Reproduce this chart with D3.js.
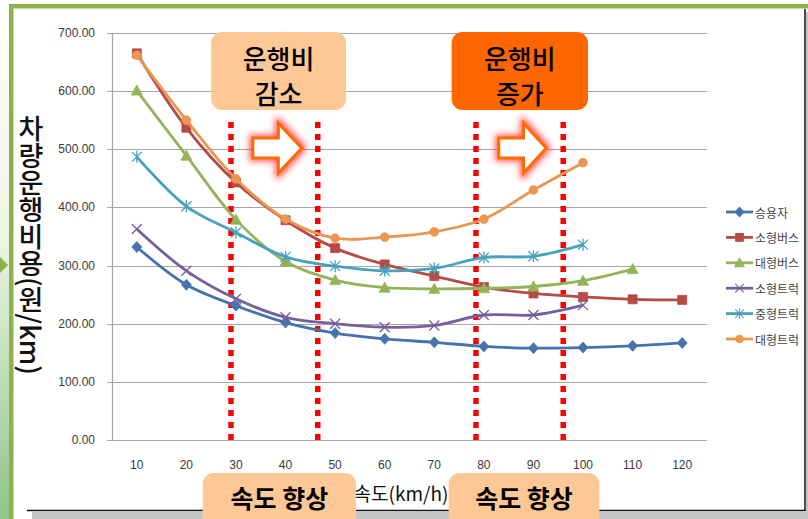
<!DOCTYPE html>
<html>
<head>
<meta charset="utf-8">
<script src="https://cdn.jsdelivr.net/npm/d3@7"></script>
<style>
  html, body { margin: 0; padding: 0; background: #fff; }
  svg { display: block; }
</style>
</head>
<body>
<svg id="chart"></svg>
<script>
const width = 808;
const height = 519;

// 데이터
const speeds = [10, 20, 30, 40, 50, 60, 70, 80, 90, 100, 110, 120];
const yTicks = [0, 100, 200, 300, 400, 500, 600, 700];
const seriesNames = ['승용자', '소형버스', '대형버스', '소형트럭', '중형트럭', '대형트럭'];
const car = [332, 267, 231, 202, 184, 174, 168, 161, 158, 159, 162, 167];
const smallBus = [665, 537, 443, 378, 330, 302, 282, 263, 252, 246, 242, 241];
const largeBus = [601, 489, 379, 307, 275, 262, 260, 261, 264, 274, 294];
const smallTruck = [363, 291, 243, 211, 200, 194, 197, 215, 215, 232];
const midTruck = [487, 402, 357, 315, 299, 291, 295, 314, 316, 336];
const largeTruck = [662, 550, 449, 380, 347, 349, 358, 380, 430, 477];
const seriesValues = [car, smallBus, largeBus, smallTruck, midTruck, largeTruck];
// 점선 위치 (속도)
const guideSpeeds = [29, 46.5, 78.4, 96];

const colors = ['#4673ab', '#b54a47', '#93b457', '#76609b', '#47a3bd', '#eb9651'];
const markers = ['diamond', 'square', 'triangle', 'x', 'star', 'circle'];

const svg = d3.select('#chart')
  .attr('width', width)
  .attr('height', height);

const defs = svg.append('defs');

// 왼쪽 바깥 배경 그라데이션
const grad = defs.append('linearGradient')
  .attr('id', 'sideGrad')
  .attr('x1', 0).attr('y1', 0).attr('x2', 0).attr('y2', 1);
grad.append('stop').attr('offset', '0%').attr('stop-color', '#ffffff');
grad.append('stop').attr('offset', '45%').attr('stop-color', '#eef6e6');
grad.append('stop').attr('offset', '100%').attr('stop-color', '#8fc48a');

// 화살표 빨간 그림자
const glow = defs.append('filter')
  .attr('id', 'glow')
  .attr('x', '-40%').attr('y', '-40%').attr('width', '180%').attr('height', '180%');
glow.append('feMorphology').attr('in', 'SourceAlpha').attr('operator', 'dilate').attr('radius', 2).attr('result', 'd');
glow.append('feGaussianBlur').attr('in', 'd').attr('stdDeviation', 3).attr('result', 'b');
glow.append('feFlood').attr('flood-color', '#ff2a2a').attr('flood-opacity', 0.75);
glow.append('feComposite').attr('in2', 'b').attr('operator', 'in').attr('result', 'g');
const merge = glow.append('feMerge');
merge.append('feMergeNode').attr('in', 'g');
merge.append('feMergeNode').attr('in', 'SourceGraphic');

svg.append('rect')
  .attr('x', 0).attr('y', 0)
  .attr('width', 9).attr('height', height)
  .attr('fill', 'url(#sideGrad)');

// 액자 (그림자, 검은 테두리, 초록 테두리)
svg.append('rect')
  .attr('x', 32).attr('y', 512)
  .attr('width', width - 32).attr('height', 7)
  .attr('fill', '#c4c4c4');
svg.append('rect')
  .attr('x', 806).attr('y', 12)
  .attr('width', 2).attr('height', 507)
  .attr('fill', '#c4c4c4');
svg.append('line')
  .attr('x1', 27).attr('x2', 805.5)
  .attr('y1', 510.5).attr('y2', 510.5)
  .attr('stroke', '#111').attr('stroke-width', 1.5);
svg.append('line')
  .attr('x1', 805).attr('x2', 805)
  .attr('y1', 9).attr('y2', 511)
  .attr('stroke', '#111').attr('stroke-width', 1.5);
svg.append('rect')
  .attr('x', 9).attr('y', 4)
  .attr('width', width - 9).attr('height', 4.5)
  .attr('fill', '#8db24c');
svg.append('rect')
  .attr('x', 9).attr('y', 4)
  .attr('width', 4.5).attr('height', height)
  .attr('fill', '#8db24c');
svg.append('path')
  .attr('d', 'M0,257 L8,265 L0,273 Z')
  .attr('fill', '#8db24c');

const margin = { left: 112, right: 101, top: 33, bottom: 79 };
const plotRight = width - margin.right;
const plotBottom = height - margin.bottom;

const xScale = d3.scalePoint()
  .domain(speeds)
  .range([margin.left, plotRight])
  .padding(0.5);
// 속도 → 화면 좌표 (주석 위치용)
const xLin = d3.scaleLinear()
  .domain([10, 120])
  .range([xScale(10), xScale(120)]);
const yScale = d3.scaleLinear()
  .domain([0, 700])
  .range([plotBottom, margin.top]);

// 격자
svg.append('g')
  .selectAll('line')
  .data(yTicks)
  .join('line')
  .attr('x1', margin.left - 5)
  .attr('x2', plotRight)
  .attr('y1', d => Math.round(yScale(d)) + 0.5)
  .attr('y2', d => Math.round(yScale(d)) + 0.5)
  .attr('stroke', '#a6a6a6')
  .attr('stroke-width', 1.2);
svg.append('line')
  .attr('x1', margin.left + 0.5).attr('x2', margin.left + 0.5)
  .attr('y1', margin.top).attr('y2', plotBottom + 0.5)
  .attr('stroke', '#a6a6a6')
  .attr('stroke-width', 1.2);

// 축 라벨
svg.append('g')
  .selectAll('text')
  .data(yTicks)
  .join('text')
  .attr('x', 95)
  .attr('y', d => yScale(d))
  .attr('text-anchor', 'end')
  .attr('dominant-baseline', 'central')
  .attr('font-family', 'Liberation Sans, Arial, sans-serif')
  .attr('font-size', 12)
  .attr('fill', '#3a3a3a')
  .text(d => d3.format('.2f')(d));

svg.append('g')
  .selectAll('text')
  .data(speeds)
  .join('text')
  .attr('x', d => xScale(d))
  .attr('y', 465)
  .attr('text-anchor', 'middle')
  .attr('dominant-baseline', 'central')
  .attr('font-family', 'Liberation Sans, Arial, sans-serif')
  .attr('font-size', 12)
  .attr('fill', '#3a3a3a')
  .text(d => d);

svg.append('text')
  .attr('x', 401)
  .attr('y', 492)
  .attr('text-anchor', 'middle')
  .attr('dominant-baseline', 'central')
  .attr('font-family', 'Noto Sans CJK KR, sans-serif')
  .attr('font-size', 19)
  .attr('fill', '#111')
  .text('속도(km/h)');

svg.append('text')
  .attr('x', 31)
  .attr('y', 115)
  .attr('font-family', 'Noto Sans CJK KR, sans-serif')
  .attr('font-size', 27)
  .attr('font-weight', 500)
  .attr('fill', '#111')
  .style('writing-mode', 'vertical-rl')
  .style('text-orientation', 'mixed')
  .text('차량운행비용(원/km)');

// 점선
svg.append('g')
  .selectAll('line')
  .data(guideSpeeds)
  .join('line')
  .attr('x1', d => xLin(d))
  .attr('x2', d => xLin(d))
  .attr('y1', 122)
  .attr('y2', plotBottom)
  .attr('stroke', '#ff0000')
  .attr('stroke-width', 5.5)
  .attr('stroke-dasharray', '6 6');

// 계열 선과 마커
const line = d3.line()
  .x((d, i) => xScale(speeds[i]))
  .y(d => yScale(d))
  .curve(d3.curveCatmullRom.alpha(0.5));

function markerPath(type) {
  if (type === 'diamond') return 'M0,-5.5 L5,0 L0,5.5 L-5,0 Z';
  if (type === 'square') return 'M-4.5,-4.5 H4.5 V4.5 H-4.5 Z';
  if (type === 'triangle') return 'M0,-5.5 L5.5,4.5 L-5.5,4.5 Z';
  if (type === 'x') return 'M-5,-5 L5,5 M-5,5 L5,-5';
  if (type === 'star') return 'M-5,-5 L5,5 M-5,5 L5,-5 M0,-6 L0,6';
  return d3.symbol(d3.symbolCircle, 60)();
}

const seriesG = svg.append('g')
  .selectAll('g')
  .data(seriesValues)
  .join('g');

seriesG.append('path')
  .attr('d', d => line(d))
  .attr('fill', 'none')
  .attr('stroke', (d, i) => colors[i])
  .attr('stroke-width', 2.8);

seriesG.each(function (vals, si) {
  const type = markers[si];
  d3.select(this)
    .selectAll('path.m')
    .data(vals)
    .join('path')
    .attr('class', 'm')
    .attr('transform', (d, i) => `translate(${xScale(speeds[i])},${yScale(d)})`)
    .attr('d', markerPath(type))
    .attr('fill', (type === 'x' || type === 'star') ? 'none' : colors[si])
    .attr('stroke', colors[si])
    .attr('stroke-width', (type === 'x' || type === 'star') ? 1.3 : 0.8);
});

// 범례
const legend = svg.append('g')
  .selectAll('g')
  .data(seriesNames)
  .join('g')
  .attr('transform', (d, i) => `translate(726, ${212 + i * 25.4})`);
legend.append('line')
  .attr('x1', 0).attr('x2', 27)
  .attr('stroke', (d, i) => colors[i])
  .attr('stroke-width', 2.8);
legend.append('path')
  .attr('transform', 'translate(13.5,0) scale(0.85)')
  .attr('d', (d, i) => markerPath(markers[i]))
  .attr('fill', (d, i) => (markers[i] === 'x' || markers[i] === 'star') ? 'none' : colors[i])
  .attr('stroke', (d, i) => colors[i])
  .attr('stroke-width', 1.2);
legend.append('text')
  .attr('x', 29)
  .attr('dominant-baseline', 'central')
  .attr('font-family', 'Noto Sans CJK KR, sans-serif')
  .attr('font-size', 12)
  .attr('fill', '#444')
  .text(d => d);

// 화살표
function arrowPath(x0, x1, cy) {
  const xh = x0 + (x1 - x0) * 0.52;
  return `M${x0},${cy - 10} H${xh} V${cy - 25} L${x1},${cy} L${xh},${cy + 25} V${cy + 10} H${x0} Z`;
}
svg.append('g')
  .selectAll('path')
  .data([[33.4, 43.3], [83, 92.6]])
  .join('path')
  .attr('d', d => arrowPath(xLin(d[0]), xLin(d[1]), yScale(502)))
  .attr('fill', '#fff')
  .attr('stroke', '#ff6a00')
  .attr('stroke-width', 3)
  .attr('stroke-linejoin', 'miter')
  .attr('filter', 'url(#glow)');

// 주석 상자
const boxes = [
  { x0: 25, x1: 52.2, y: 32, h: 78, fill: '#fdc896', lines: ['운행비', '감소'], size: 26, weight: 500 },
  { x0: 73.5, x1: 101, y: 32, h: 78, fill: '#ff6600', lines: ['운행비', '증가'], size: 26, weight: 500 },
  { x0: 23.3, x1: 54.2, y: 473, h: 60, fill: '#fdc896', lines: ['속도 향상'], size: 25, weight: 700 },
  { x0: 72.9, x1: 103.3, y: 473, h: 60, fill: '#fdc896', lines: ['속도 향상'], size: 25, weight: 700 }
];
const boxG = svg.append('g')
  .selectAll('g')
  .data(boxes)
  .join('g');
boxG.append('rect')
  .attr('x', d => xLin(d.x0))
  .attr('y', d => d.y)
  .attr('width', d => xLin(d.x1) - xLin(d.x0))
  .attr('height', d => d.h)
  .attr('rx', 11)
  .attr('fill', d => d.fill);
boxG.each(function (d) {
  const cx = (xLin(d.x0) + xLin(d.x1)) / 2;
  d3.select(this)
    .selectAll('text')
    .data(d.lines)
    .join('text')
    .attr('x', cx)
    .attr('y', (t, i) => d.lines.length === 1 ? 497 : 57 + i * 35)
    .attr('text-anchor', 'middle')
    .attr('dominant-baseline', 'central')
    .attr('font-family', 'Noto Sans CJK KR, sans-serif')
    .attr('font-size', d.size)
    .attr('font-weight', d.weight)
    .attr('fill', '#000')
    .text(t => t);
});
</script>
</body>
</html>
